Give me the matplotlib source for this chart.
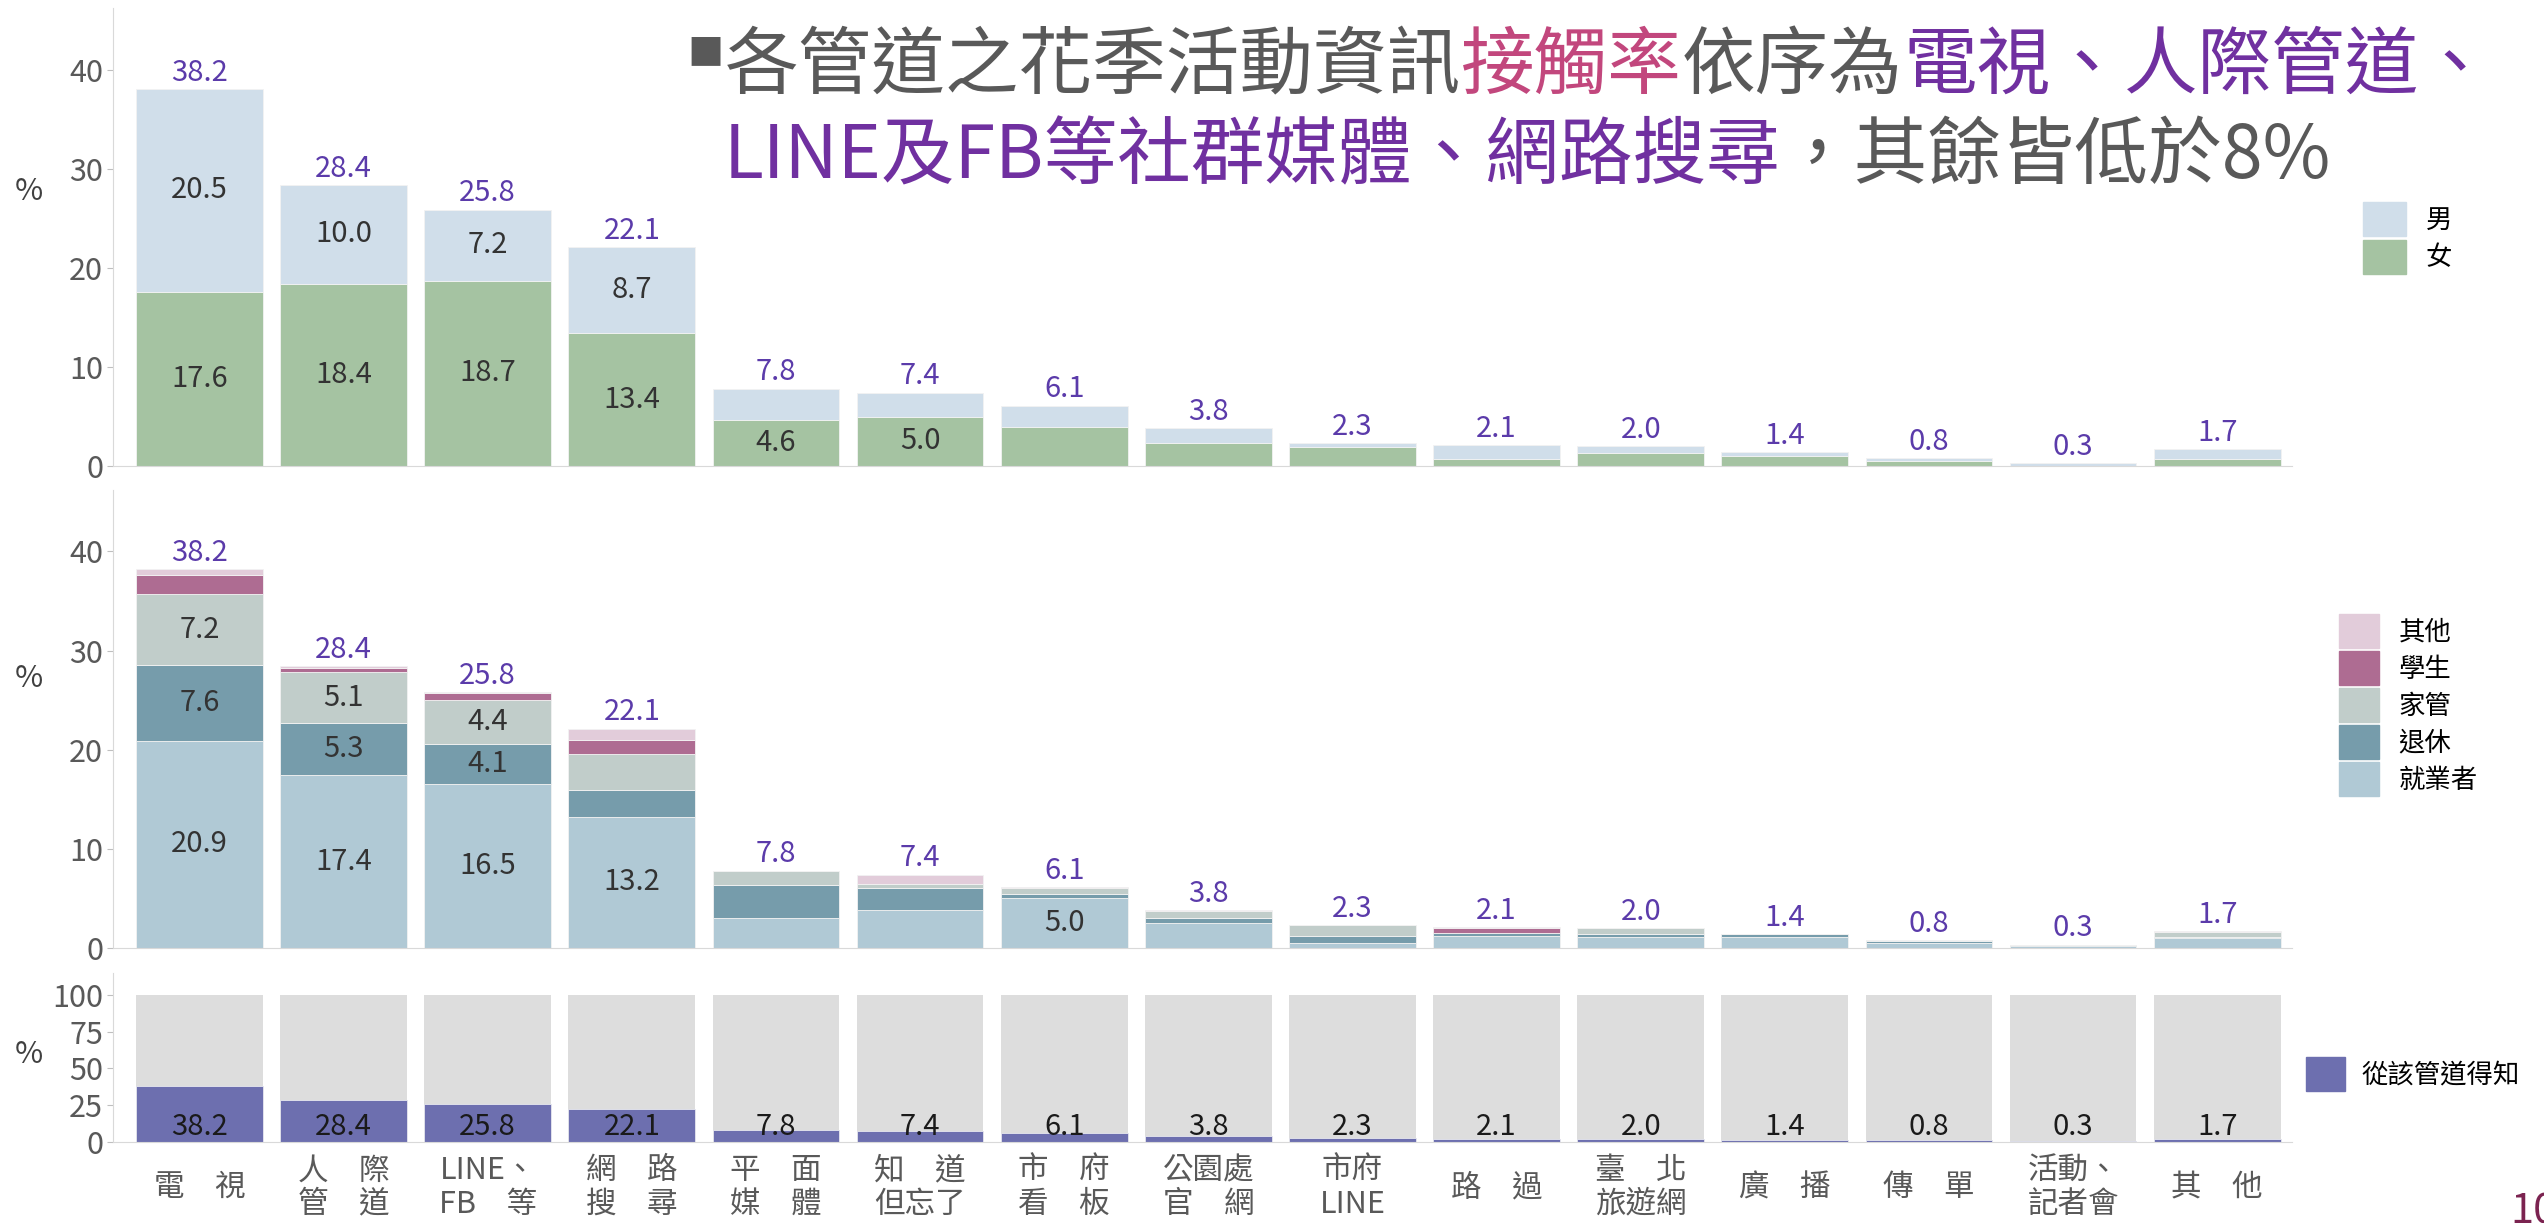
import matplotlib
matplotlib.use('Agg')
import numpy as np
import matplotlib.pyplot as plt
from matplotlib.patches import Patch

plt.rcParams['font.family'] = ['Noto Sans CJK TC', 'DejaVu Sans']
plt.rcParams['axes.edgecolor'] = '#D9D9D9'
plt.rcParams['xtick.color'] = '#595959'
plt.rcParams['ytick.color'] = '#595959'

# data
channels = ['電　視', '人　際\n管　道', 'LINE、\nFB　等', '網　路\n搜　尋', '平　面\n媒　體',
            '知　道\n但忘了', '市　府\n看　板', '公園處\n官　網', '市府\nLINE', '路　過',
            '臺　北\n旅遊網', '廣　播', '傳　單', '活動、\n記者會', '其　他']
total = [38.2, 28.4, 25.8, 22.1, 7.8, 7.4, 6.1, 3.8, 2.3, 2.1, 2.0, 1.4, 0.8, 0.3, 1.7]

# gender split
female = [17.6, 18.4, 18.7, 13.4, 4.6, 5.0, 3.9, 2.3, 1.9, 0.7, 1.3, 1.0, 0.5, 0.0, 0.7]
male = [20.5, 10.0, 7.2, 8.7, 3.2, 2.4, 2.2, 1.5, 0.4, 1.4, 0.7, 0.4, 0.3, 0.3, 1.0]

# occupation split
employed = [20.9, 17.4, 16.5, 13.2, 3.0, 3.8, 5.0, 2.5, 0.5, 1.2, 1.1, 1.1, 0.5, 0.2, 1.0]
retired = [7.6, 5.3, 4.1, 2.7, 3.3, 2.2, 0.4, 0.5, 0.7, 0.3, 0.3, 0.3, 0.2, 0.1, 0.1]
homemaker = [7.2, 5.1, 4.4, 3.7, 1.5, 0.4, 0.6, 0.7, 1.1, 0.0, 0.6, 0.0, 0.1, 0.0, 0.5]
student = [1.9, 0.4, 0.7, 1.4, 0.0, 0.0, 0.0, 0.0, 0.0, 0.5, 0.0, 0.0, 0.0, 0.0, 0.0]
other = [0.6, 0.2, 0.1, 1.1, 0.0, 1.0, 0.1, 0.1, 0.0, 0.1, 0.0, 0.0, 0.0, 0.0, 0.1]

full = [100] * len(channels)

GREY = '#595959'
PURPLE_LBL = '#5B3BAA'
W = 0.88
x = np.arange(len(channels))

fig = plt.figure(figsize=(25.44, 12.23), dpi=100)
ax1 = fig.add_axes([0.0444, 0.619, 0.8566, 0.3745])
ax2 = fig.add_axes([0.0444, 0.225, 0.8566, 0.3743])
ax3 = fig.add_axes([0.0444, 0.0665, 0.8566, 0.1379])


def style(ax, ymax, ticks):
    ax.set_xlim(-0.6, len(channels) - 0.48)
    ax.set_ylim(0, ymax)
    ax.set_yticks(ticks)
    ax.spines['top'].set_visible(False)
    ax.spines['right'].set_visible(False)
    ax.tick_params(axis='y', labelsize=22, length=4, pad=3, colors=GREY)
    ax.tick_params(axis='y', color='#BFBFBF')
    ax.tick_params(axis='x', length=0)


def stack(ax, series, colors):
    bottom = np.zeros(len(channels))
    for vals, col in zip(series, colors):
        v = np.array(vals)
        ax.bar(x, v, W, bottom=bottom, color=col, edgecolor='#F2F2F2', linewidth=0.6)
        for i in range(len(v)):
            if v[i] >= 4:
                ax.text(x[i], bottom[i] + v[i] / 2, f'{v[i]:.1f}', ha='center', va='center',
                        fontsize=21, color='#333333')
        bottom += v
    for i in range(len(total)):
        ax.annotate(f'{total[i]:.1f}', (x[i], bottom[i]), xytext=(0, 1), textcoords='offset points',
                    ha='center', va='bottom', fontsize=21, color=PURPLE_LBL)


# top panel: gender
style(ax1, 46.3, [0, 10, 20, 30, 40])
ax1.set_xticks([])
c_female, c_male = '#A5C3A2', '#D0DEEA'
stack(ax1, [female, male], [c_female, c_male])
fig.legend(handles=[Patch(color=c_male, label='男'), Patch(color=c_female, label='女')],
           loc='upper left', bbox_to_anchor=(0.929, 0.835), frameon=False, fontsize=19,
           handlelength=1.6, handleheight=1.6, labelspacing=0.15, handletextpad=0.75,
           borderpad=0, borderaxespad=0)

# middle panel: occupation
style(ax2, 46.2, [0, 10, 20, 30, 40])
ax2.set_xticks([])
occ_cols = ['#B0C9D5', '#769CAB', '#C1CDCA', '#AE6C92', '#E2CCDA']
occ_names = ['就業者', '退休', '家管', '學生', '其他']
stack(ax2, [employed, retired, homemaker, student, other], occ_cols)
fig.legend(handles=[Patch(color=c, label=n) for c, n in zip(occ_cols[::-1], occ_names[::-1])],
           loc='upper left', bbox_to_anchor=(0.9194, 0.498), frameon=False, fontsize=19,
           handlelength=1.5, handleheight=1.6, labelspacing=0.12, handletextpad=0.75,
           borderpad=0, borderaxespad=0)

# bottom panel: share of all respondents
style(ax3, 115, [0, 25, 50, 75, 100])
ax3.bar(x, full, W, color='#DDDDDD')
ax3.bar(x, total, W, color='#6D6FAF', edgecolor='#E8E8F0', linewidth=0.6)
for i in range(len(total)):
    ax3.text(x[i], 10, f'{total[i]:.1f}', ha='center', va='center', fontsize=21, color='#1A1A1A')
ax3.set_xticks(x)
ax3.set_xticklabels(channels, fontsize=22, color=GREY, linespacing=1.1)
for lbl in ax3.get_xticklabels():
    lbl.set_va('center')
ax3.tick_params(axis='x', pad=33)
fig.legend(handles=[Patch(color='#6D6FAF', label='從該管道得知')],
           loc='upper left', bbox_to_anchor=(0.9064, 0.1357), frameon=False, fontsize=19,
           handlelength=1.5, handleheight=1.6, handletextpad=0.6, borderpad=0, borderaxespad=0)

# % labels
for yy in [0.8438, 0.4456, 0.1374]:
    fig.text(0.0114, yy, '%', fontsize=22, color='#404040', ha='center', va='center')

# multi-coloured headline
renderer = fig.canvas.get_renderer()


def colored_line(x0, y0, pieces, size):
    xc = x0
    for s, col in pieces:
        t = fig.text(xc, y0, s, fontsize=size, color=col, ha='left', va='baseline')
        bb = t.get_window_extent(renderer=renderer)
        xc += bb.width / fig.bbox.width


TG, TP, TR = '#595959', '#7030A0', '#C2477D'
fig.text(705 / 2544, 1 - 54 / 1223, '■', fontsize=26, color=TG, ha='center', va='center')
colored_line(725 / 2544, 1 - 88 / 1223,
             [('各管道之花季活動資訊', TG), ('接觸率', TR), ('依序為', TG),
              ('電視、人際管道、', TP)], 53)
colored_line(724 / 2544, 1 - 178 / 1223,
             [('LINE及FB等社群媒體、網路搜尋', TP), ('，其餘皆低於8%', TG)], 53)

# page number partly cut off at the corner
fig.text(2510 / 2544, 0.0, '10', fontsize=30, color='#7B2350', ha='left', va='baseline')

plt.savefig('out.png', dpi=100)
